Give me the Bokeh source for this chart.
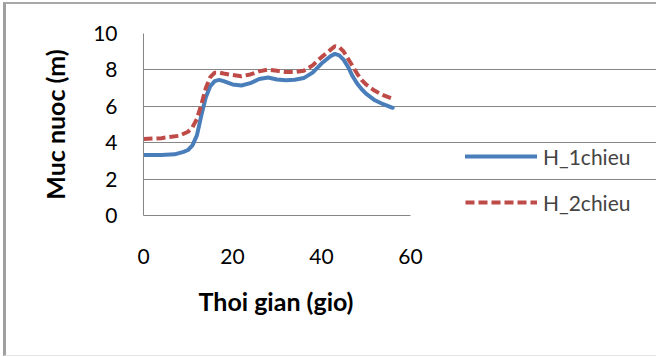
from bokeh.plotting import figure
from bokeh.models import Range1d, FixedTicker, Legend, LegendItem, InlineStyleSheet, Title
from bokeh.embed import file_html
from bokeh.resources import INLINE

# data
t_1chieu = [0, 4, 7, 9, 10, 11, 12, 13, 14, 15, 16, 17, 18, 20, 22, 24, 26, 28, 30, 32,
            34, 36, 38, 40, 42, 43, 44, 45, 46, 47, 48, 49, 50, 52, 54, 56]
h_1chieu = [3.33, 3.33, 3.36, 3.5, 3.6, 3.85, 4.4, 5.5, 6.5, 7.1, 7.38, 7.45, 7.38, 7.2,
            7.14, 7.27, 7.5, 7.58, 7.47, 7.43, 7.46, 7.55, 7.85, 8.35, 8.75, 8.88, 8.8,
            8.55, 8.15, 7.65, 7.25, 6.95, 6.7, 6.33, 6.1, 5.92]
t_2chieu = [0, 4, 8, 10, 11, 12, 13, 14, 15, 16, 17, 18, 20, 22, 24, 26, 28, 30, 32, 34,
            36, 38, 40, 42, 43, 44, 45, 46, 47, 48, 49, 50, 52, 54, 56]
h_2chieu = [4.2, 4.25, 4.38, 4.6, 4.85, 5.3, 6.1, 7.0, 7.6, 7.85, 7.85, 7.8, 7.72, 7.65,
            7.75, 7.92, 8.02, 7.95, 7.88, 7.88, 7.95, 8.25, 8.7, 9.1, 9.3, 9.25, 9.0,
            8.6, 8.2, 7.8, 7.45, 7.2, 6.85, 6.6, 6.42]
x_ticks = [0, 20, 40, 60]
y_ticks = [0, 2, 4, 6, 8, 10]
series_names = ["H_1chieu", "H_2chieu"]
x_title = "Thoi gian (gio)"
y_title = "Muc nuoc (m)"

X_MIN, X_MAX = 0, 60
# frame also spans the legend area on the right; axis/grid are bounded to 0..60
X_VIEW_MAX = 60 * 513 / 267

FONT = "Lato"
GRID = "#868686"

p = figure(width=656, height=357, output_backend="svg", toolbar_location=None,
           x_range=Range1d(X_MIN, X_VIEW_MAX), y_range=Range1d(0, 10),
           min_border_left=143, min_border_right=0, min_border_top=33,
           min_border_bottom=142)
p.outline_line_color = None
p.background_fill_color = "white"
p.border_fill_color = "white"

p.xgrid.grid_line_color = None
p.ygrid.grid_line_color = GRID
p.ygrid.grid_line_width = 1
p.ygrid.ticker = FixedTicker(ticks=y_ticks)
p.ygrid.bounds = (X_MIN, X_MAX)

for ax in (p.xaxis[0], p.yaxis[0]):
    ax.axis_line_color = GRID
    ax.axis_line_width = 1
    ax.major_tick_line_color = None
    ax.minor_tick_line_color = None
    ax.major_label_text_font = FONT
    ax.major_label_text_font_size = "21px"
    ax.major_label_text_color = "#000000"
    ax.axis_label_text_font = FONT
    ax.axis_label_text_font_style = "bold"
    ax.axis_label_text_color = "#000000"

p.xaxis.bounds = (X_MIN, X_MAX)
p.xaxis.ticker = FixedTicker(ticks=x_ticks)
p.yaxis.ticker = FixedTicker(ticks=y_ticks)
p.xaxis.major_label_standoff = 27
p.yaxis.major_label_standoff = 20
p.yaxis.axis_label = y_title
p.yaxis.axis_label_text_font_size = "25px"
p.yaxis.axis_label_standoff = 20

# x-axis title, centred under the 0..60 part of the axis
p.add_layout(Title(text=x_title, align="left", offset=55, standoff=34,
                   text_font=FONT, text_font_size="25px", text_font_style="bold",
                   text_color="#000000"), "below")

r1 = p.line(t_1chieu, h_1chieu, line_color="#4a7ebb", line_width=4, line_join="round",
            line_cap="round")
r2 = p.line(t_2chieu, h_2chieu, line_color="#be4b48", line_width=4, line_dash="9 4")

legend = Legend(items=[LegendItem(label=series_names[0], renderers=[r1]),
                       LegendItem(label=series_names[1], renderers=[r2])],
                location=(322, 0), orientation="vertical",
                glyph_width=72, glyph_height=26, label_height=26,
                label_standoff=6, spacing=20, padding=0, margin=0,
                label_text_font=FONT, label_text_font_size="21px",
                border_line_color=None, background_fill_alpha=0)
p.add_layout(legend, "center")

# outer chart border
p.stylesheets = [InlineStyleSheet(css="""
:host::after { content: ''; position: absolute; left: 3px; top: 2px; right: 0px; bottom: 1px;
  border-left: 3px solid #a0a0a0; border-top: 2px solid #a8a8a8;
  border-bottom: 1px solid #e4e4e4; pointer-events: none; }
""")]

open("out.html", "w").write(file_html(p, INLINE))
